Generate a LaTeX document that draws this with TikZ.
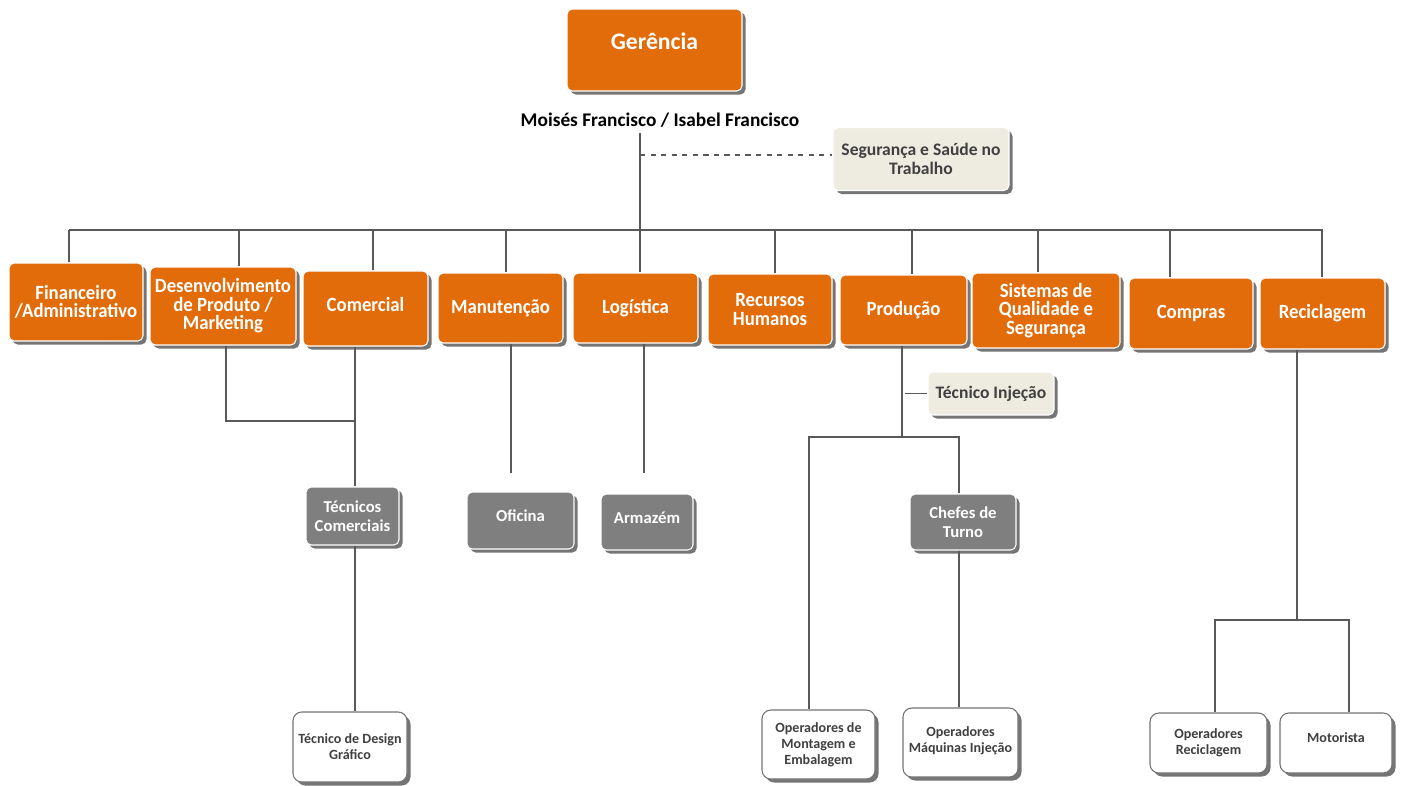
\documentclass[tikz,border=0pt]{standalone}
\usepackage{fontspec}
\setmainfont{Carlito}
\newfontfamily\deptfont{Carlito}[FakeStretch=0.93]
\usetikzlibrary{shadows,positioning}
\definecolor{deptorange}{HTML}{E36C0A}
\definecolor{unitgray}{HTML}{7F7F7F}
\definecolor{staffbeige}{HTML}{EEECE1}
\definecolor{linegray}{HTML}{595959}
\definecolor{textgray}{HTML}{404040}
\tikzset{
  sz/.style 2 args={minimum width=#1*0.02cm, minimum height=#2*0.02cm},
  boxbase/.style={rounded corners=3pt, align=center, inner sep=1pt, draw=white, line width=0.6pt,
    drop shadow={shadow xshift=0.07cm, shadow yshift=-0.07cm, fill=black!60, opacity=0.9}},
  dept/.style={boxbase, fill=deptorange, text=white, font=\deptfont\bfseries\fontsize{11.5}{10.5}\selectfont},
  unit/.style={boxbase, fill=unitgray, text=white, font=\bfseries\fontsize{9.5}{10.5}\selectfont},
  staff/.style={boxbase, fill=staffbeige, text=textgray, font=\bfseries\fontsize{10}{10.5}\selectfont},
  post/.style={boxbase, rounded corners=5pt, fill=white, draw=black!55, text=textgray,
    font=\bfseries\fontsize{8}{9}\selectfont},
  conn/.style={draw=linegray, line width=0.7pt}
}
\begin{document}
\begin{tikzpicture}[x=0.02cm,y=-0.02cm]
      \useasboundingbox (0,0) rectangle (1402,785);
      % top
      \node[dept, sz={175}{82}, font=\bfseries\fontsize{13.5}{14}\selectfont, text depth=0.35cm] (ger) at (654.5,50) {Gerência};
      \node[font=\bfseries\fontsize{11}{12}\selectfont] (names) at (660,120) {Moisés Francisco / Isabel Francisco};
      \node[staff, sz={176}{63}] (seg) at (921,159) {Segurança e Saúde no\\Trabalho};
      % departments
      \node[dept, sz={134}{78}] (fin) at (76,302)      {Financeiro\\/Administrativo};
      \node[dept, sz={146}{78}] (des) at (223,306)     {Desenvolvimento\\de Produto /\\Marketing};
      \node[dept, sz={125}{75}, text depth=0.18cm] (com) at (365.5,308.5) {Comercial};
      \node[dept, sz={125}{70}] (man) at (500.5,308)   {Manutenção};
      \node[dept, sz={125}{70}] (log) at (635.5,308)   {Logística};
      \node[dept, sz={124}{71}] (rh)  at (770,309.5)   {Recursos\\Humanos};
      \node[dept, sz={127}{70}] (pro) at (903.5,310)   {Produção};
      \node[dept, sz={148}{75}] (sis) at (1046,310.5)  {Sistemas de\\Qualidade e\\Segurança};
      \node[dept, sz={124}{71}] (cpr) at (1191,313.5)  {Compras};
      \node[dept, sz={125}{71}] (rcl) at (1322.5,313.5) {Reciclagem};
      % units
      \node[unit, sz={93}{58}]  (tcom) at (352.5,516) {Técnicos\\Comerciais};
      \node[unit, sz={107}{57}, text depth=0.18cm] (ofi)  at (520.5,520.5) {Oficina};
      \node[unit, sz={92}{56}, text depth=0.16cm]  (arm)  at (647,522)   {Armazém};
      \node[staff, sz={126}{43}] (tinj) at (991,393.5) {Técnico Injeção};
      \node[unit, sz={106}{56}] (chf)  at (963,522)   {Chefes de\\Turno};
      % posts
      \node[post, sz={114}{70}] (tdg) at (350,747)    {Técnico de Design\\Gráfico};
      \node[post, sz={113}{69}] (opm) at (818.5,744.5) {Operadores de\\Montagem e\\Embalagem};
      \node[post, sz={115}{69}, text depth=0.12cm] (omi) at (960.5,742.5) {Operadores\\Máquinas Injeção};
      \node[post, sz={117}{60}, text depth=0.06cm] (opr) at (1208.5,743) {Operadores\\Reciclagem};
      \node[post, sz={112}{60}, text depth=0.22cm] (mot) at (1336,743)   {Motorista};

      % junctions
      \coordinate (trunk) at (640,230);
      \coordinate (comj)  at (355,421);
      \coordinate (ofiend) at (511,473);
      \coordinate (armend) at (644,473);
      \coordinate (proj)  at (902,437);
      \coordinate (rclj)  at (1297,620);

      % connectors
      \draw[conn] (640,0 |- names.south) -- (trunk);
      \draw[conn, dashed] (640,155) -- (seg.west |- 640,155);
      \draw[conn] (69,230) -- (1323,230);
      \foreach \n/\x in {fin/69,des/239,com/373,man/506,log/640,rh/775,pro/912,sis/1038,cpr/1170,rcl/1322}
        \draw[conn] (\x,230) -- (\x,0 |- \n.north);
      \draw[conn] (226,0 |- des.south) |- (comj);
      \draw[conn] (355,0 |- com.south) -- (355,0 |- tcom.north);
      \draw[conn] (355,0 |- tcom.south) -- (355,0 |- tdg.north);
      \draw[conn] (511,0 |- man.south) -- (ofiend);
      \draw[conn] (644,0 |- log.south) -- (armend);
      \draw[conn] (902,0 |- pro.south) -- (proj);
      \draw[conn] (905,0 |- tinj.west) -- (tinj.west);
      \draw[conn] (809,0 |- opm.north) |- (959,437) -- (959,0 |- chf.north);
      \draw[conn] (959,0 |- chf.south) -- (959,0 |- omi.north);
      \draw[conn] (1297,0 |- rcl.south) -- (rclj);
      \draw[conn] (1215,0 |- opr.north) |- (1349,620) -- (1349,0 |- mot.north);
    \end{tikzpicture}
\end{document}
